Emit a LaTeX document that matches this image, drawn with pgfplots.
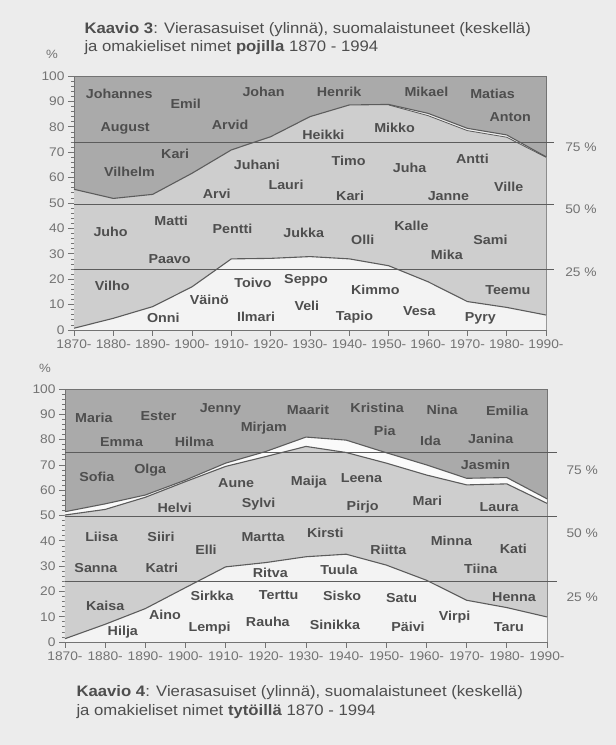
\documentclass[border=0pt]{standalone}
\usepackage{pgfplots}
\pgfplotsset{compat=1.18}
\usepackage{fontspec}
\setmainfont{Liberation Sans}[FakeStretch=1.1]
\definecolor{paper}{RGB}{236,236,236}
\definecolor{dark}{RGB}{170,170,170}
\definecolor{mid}{RGB}{206,206,206}
\definecolor{light}{RGB}{243,243,243}
\definecolor{band}{RGB}{250,250,250}
\definecolor{linec}{RGB}{92,92,92}
\definecolor{txt}{RGB}{78,78,78}
\definecolor{tickc}{RGB}{115,115,115}
\tikzset{
  nm/.style={font=\bfseries\fontsize{13}{15}\selectfont, text=txt},
  rl/.style={font=\fontsize{12.5}{14}\selectfont, text=tickc, anchor=west},
  hl/.style={draw=linec, line width=0.9pt},
  cl/.style={draw=linec, line width=1.1pt},
  tt/.style={anchor=base west, text=txt, font=\fontsize{15.2}{18}\selectfont},
}
\pgfplotsset{
  base/.style={
    scale only axis, xmin=1870, xmax=1990, ymin=0, ymax=100,
    xtick={1870,1880,...,1990},
    xticklabels={1870-,1880-,1890-,1900-,1910-,1920-,1930-,1940-,1950-,1960-,1970-,1980-,1990-},
    ytick={0,10,...,100}, minor y tick num=4,
    tick pos=left, tick align=outside,
    major tick length=6pt, minor tick length=3pt,
    axis line style={draw=tickc, line width=0.8pt},
    tick style={draw=tickc, line width=0.7pt},
    tick label style={font=\fontsize{12.5}{14}\selectfont, text=tickc},
    /pgf/number format/assume math mode=true,
    clip=false,
    axis background/.style={fill=dark},
  },
}
\begin{document}
\begin{tikzpicture}
\fill[paper] (0,0) rectangle (616pt,745pt);
\useasboundingbox (0,0) rectangle (616pt,745pt);

% titles
\node[tt] at (81pt,711pt) {\textbf{Kaavio 3}: Vierasasuiset (ylinnä), suomalaistuneet (keskellä)};
\node[tt] at (81pt,693pt) {ja omakieliset nimet \textbf{pojilla} 1870 - 1994};
\node[tt] at (73pt,48.3pt) {\textbf{Kaavio 4}: Vierasasuiset (ylinnä), suomalaistuneet (keskellä)};
\node[tt] at (73pt,30pt) {ja omakieliset nimet \textbf{tytöillä} 1870 - 1994};
\node[text=tickc, font=\fontsize{12}{14}\selectfont] at (52pt,691pt) {\%};
\node[text=tickc, font=\fontsize{12}{14}\selectfont] at (45pt,377pt) {\%};

% ---------------- top chart (boys)
\begin{axis}[base, at={(74pt,415pt)}, anchor=south west, width=472pt, height=254pt]
\addplot[fill=light, draw=none] coordinates {(1870,55.4)(1880,51.8)(1890,53.4)(1900,61.7)(1910,70.9)(1920,76.1)(1930,84)(1940,88.6)(1950,88.8)(1960,85.3)(1970,79.4)(1980,76.8)(1990,68.2)} \closedcycle;
\addplot[fill=mid, draw=none] coordinates {(1870,55.4)(1880,51.8)(1890,53.4)(1900,61.7)(1910,70.9)(1920,76.1)(1930,84)(1940,88.6)(1950,88.6)(1960,84.4)(1970,78.5)(1980,75.9)(1990,68)} \closedcycle;
\addplot[fill=light, draw=none] coordinates {(1870,0.7)(1880,4.6)(1890,9.2)(1900,17)(1910,28)(1920,28.2)(1930,28.9)(1940,28)(1950,25.3)(1960,19)(1970,11.2)(1980,8.9)(1990,5.9)} \closedcycle;
\draw[hl] (axis cs:1870,74) -- (axis cs:1992,74);
\draw[hl] (axis cs:1870,49.3) -- (axis cs:1992,49.3);
\draw[hl] (axis cs:1870,24) -- (axis cs:1992,24);
\addplot[cl] coordinates {(1870,55.4)(1880,51.8)(1890,53.4)(1900,61.7)(1910,70.9)(1920,76.1)(1930,84)(1940,88.6)(1950,88.8)(1960,85.3)(1970,79.4)(1980,76.8)(1990,68.2)};
\addplot[cl, line width=0.8pt] coordinates {(1950,88.6)(1960,84.4)(1970,78.5)(1980,75.9)(1990,68)};
\addplot[cl] coordinates {(1870,0.7)(1880,4.6)(1890,9.2)(1900,17)(1910,28)(1920,28.2)(1930,28.9)(1940,28)(1950,25.3)(1960,19)(1970,11.2)(1980,8.9)(1990,5.9)};
\node[rl] at (axis cs:1994,72) {75 \%};
\node[rl] at (axis cs:1994,47.6) {50 \%};
\node[rl] at (axis cs:1994,22.8) {25 \%};
\node[nm] at (axis cs:1881.5,92.8) {Johannes};
\node[nm] at (axis cs:1898.4,89.2) {Emil};
\node[nm] at (axis cs:1918.2,93.6) {Johan};
\node[nm] at (axis cs:1883,79.4) {August};
\node[nm] at (axis cs:1909.7,80.7) {Arvid};
\node[nm] at (axis cs:1895.7,69.2) {Kari};
\node[nm] at (axis cs:1884.1,62.3) {Vilhelm};
\node[nm] at (axis cs:1916.5,65.2) {Juhani};
\node[nm] at (axis cs:1923.9,57.1) {Lauri};
\node[nm] at (axis cs:1906.3,53.8) {Arvi};
\node[nm] at (axis cs:1879.3,38.5) {Juho};
\node[nm] at (axis cs:1894.7,43.0) {Matti};
\node[nm] at (axis cs:1910.3,40.0) {Pentti};
\node[nm] at (axis cs:1928.4,38.3) {Jukka};
\node[nm] at (axis cs:1894.3,27.8) {Paavo};
\node[nm] at (axis cs:1879.7,17.4) {Vilho};
\node[nm] at (axis cs:1915.5,18.6) {Toivo};
\node[nm] at (axis cs:1929,19.4) {Seppo};
\node[nm] at (axis cs:1904.4,11.8) {Väinö};
\node[nm] at (axis cs:1929.2,9.6) {Veli};
\node[nm] at (axis cs:1892.7,4.6) {Onni};
\node[nm] at (axis cs:1916.3,5.2) {Ilmari};
\node[nm] at (axis cs:1937.4,93.8) {Henrik};
\node[nm] at (axis cs:1959.6,93.6) {Mikael};
\node[nm] at (axis cs:1976.4,92.8) {Matias};
\node[nm] at (axis cs:1980.9,84.0) {Anton};
\node[nm] at (axis cs:1933.4,76.8) {Heikki};
\node[nm] at (axis cs:1951.5,79.4) {Mikko};
\node[nm] at (axis cs:1939.8,66.5) {Timo};
\node[nm] at (axis cs:1955.3,63.7) {Juha};
\node[nm] at (axis cs:1971.3,67.2) {Antti};
\node[nm] at (axis cs:1980.5,56.4) {Ville};
\node[nm] at (axis cs:1940.2,52.9) {Kari};
\node[nm] at (axis cs:1965.2,52.8) {Janne};
\node[nm] at (axis cs:1955.8,41.1) {Kalle};
\node[nm] at (axis cs:1943.4,35.4) {Olli};
\node[nm] at (axis cs:1975.9,35.4) {Sami};
\node[nm] at (axis cs:1964.8,29.5) {Mika};
\node[nm] at (axis cs:1946.6,15.7) {Kimmo};
\node[nm] at (axis cs:1980.3,15.7) {Teemu};
\node[nm] at (axis cs:1941.3,5.2) {Tapio};
\node[nm] at (axis cs:1957.8,7.6) {Vesa};
\node[nm] at (axis cs:1973.3,4.6) {Pyry};
\end{axis}

% ---------------- bottom chart (girls)
\begin{axis}[base, at={(65pt,103pt)}, anchor=south west, width=482pt, height=253pt]
\addplot[fill=band, draw=none] coordinates {(1870,51.5)(1880,54.6)(1890,58.1)(1900,64)(1910,70.7)(1920,75.3)(1930,81)(1940,79.8)(1950,74.8)(1960,70)(1970,64.7)(1980,65)(1990,56.6)} \closedcycle;
\addplot[fill=mid, draw=none] coordinates {(1870,50.2)(1880,52.4)(1890,57.2)(1900,63.4)(1910,69.4)(1920,73.3)(1930,77.3)(1940,74.9)(1950,70.7)(1960,66)(1970,62.1)(1980,62.5)(1990,54.8)} \closedcycle;
\addplot[fill=light, draw=none] coordinates {(1870,1.3)(1880,7)(1890,13.2)(1900,21.5)(1910,29.7)(1920,31.4)(1930,33.7)(1940,34.7)(1950,30.4)(1960,24.4)(1970,16.5)(1980,13.6)(1990,9.9)} \closedcycle;
\draw[hl] (axis cs:1870,75) -- (axis cs:1992.4,75);
\draw[hl] (axis cs:1870,49.8) -- (axis cs:1992.4,49.8);
\draw[hl] (axis cs:1870,24) -- (axis cs:1992.4,24);
\addplot[cl] coordinates {(1870,51.5)(1880,54.6)(1890,58.1)(1900,64)(1910,70.7)(1920,75.3)(1930,81)(1940,79.8)(1950,74.8)(1960,70)(1970,64.7)(1980,65)(1990,56.6)};
\addplot[cl] coordinates {(1870,50.2)(1880,52.4)(1890,57.2)(1900,63.4)(1910,69.4)(1920,73.3)(1930,77.3)(1940,74.9)(1950,70.7)(1960,66)(1970,62.1)(1980,62.5)(1990,54.8)};
\addplot[cl] coordinates {(1870,1.3)(1880,7)(1890,13.2)(1900,21.5)(1910,29.7)(1920,31.4)(1930,33.7)(1940,34.7)(1950,30.4)(1960,24.4)(1970,16.5)(1980,13.6)(1990,9.9)};
\node[rl] at (axis cs:1994,68) {75 \%};
\node[rl] at (axis cs:1994,43) {50 \%};
\node[rl] at (axis cs:1994,17.8) {25 \%};
\node[nm] at (axis cs:1877.2,88.4) {Maria};
\node[nm] at (axis cs:1893.3,89.4) {Ester};
\node[nm] at (axis cs:1908.7,92.0) {Jenny};
\node[nm] at (axis cs:1930.5,91.7) {Maarit};
\node[nm] at (axis cs:1919.5,84.5) {Mirjam};
\node[nm] at (axis cs:1884.1,79.2) {Emma};
\node[nm] at (axis cs:1902.2,79.2) {Hilma};
\node[nm] at (axis cs:1877.9,65.3) {Sofia};
\node[nm] at (axis cs:1891.2,68.0) {Olga};
\node[nm] at (axis cs:1912.6,63.0) {Aune};
\node[nm] at (axis cs:1930.7,63.0) {Maija};
\node[nm] at (axis cs:1897.3,53.2) {Helvi};
\node[nm] at (axis cs:1918.2,54.5) {Sylvi};
\node[nm] at (axis cs:1879.1,41.4) {Liisa};
\node[nm] at (axis cs:1893.9,41.4) {Siiri};
\node[nm] at (axis cs:1919.3,41.6) {Martta};
\node[nm] at (axis cs:1934.8,43.0) {Kirsti};
\node[nm] at (axis cs:1905.1,36.4) {Elli};
\node[nm] at (axis cs:1877.7,29.1) {Sanna};
\node[nm] at (axis cs:1894.1,29.4) {Katri};
\node[nm] at (axis cs:1921.1,27.4) {Ritva};
\node[nm] at (axis cs:1906.6,18.3) {Sirkka};
\node[nm] at (axis cs:1923.2,18.6) {Terttu};
\node[nm] at (axis cs:1880,14.2) {Kaisa};
\node[nm] at (axis cs:1894.9,10.7) {Aino};
\node[nm] at (axis cs:1906,5.4) {Lempi};
\node[nm] at (axis cs:1920.5,8.0) {Rauha};
\node[nm] at (axis cs:1884.4,3.7) {Hilja};
\node[nm] at (axis cs:1947.7,92.4) {Kristina};
\node[nm] at (axis cs:1963.9,91.7) {Nina};
\node[nm] at (axis cs:1980.1,91.3) {Emilia};
\node[nm] at (axis cs:1949.6,83.4) {Pia};
\node[nm] at (axis cs:1961,79.6) {Ida};
\node[nm] at (axis cs:1976,80.2) {Janina};
\node[nm] at (axis cs:1974.7,70.2) {Jasmin};
\node[nm] at (axis cs:1943.8,64.7) {Leena};
\node[nm] at (axis cs:1944.1,53.2) {Pirjo};
\node[nm] at (axis cs:1960.2,55.9) {Mari};
\node[nm] at (axis cs:1978.1,53.2) {Laura};
\node[nm] at (axis cs:1950.5,36.6) {Riitta};
\node[nm] at (axis cs:1966.2,39.9) {Minna};
\node[nm] at (axis cs:1981.6,36.8) {Kati};
\node[nm] at (axis cs:1938.2,28.7) {Tuula};
\node[nm] at (axis cs:1973.5,28.9) {Tiina};
\node[nm] at (axis cs:1939,18.3) {Sisko};
\node[nm] at (axis cs:1953.8,17.3) {Satu};
\node[nm] at (axis cs:1981.8,17.9) {Henna};
\node[nm] at (axis cs:1967,10.0) {Virpi};
\node[nm] at (axis cs:1937.2,6.7) {Sinikka};
\node[nm] at (axis cs:1955.4,6.0) {Päivi};
\node[nm] at (axis cs:1980.5,5.7) {Taru};
\end{axis}
\end{tikzpicture}
\end{document}
